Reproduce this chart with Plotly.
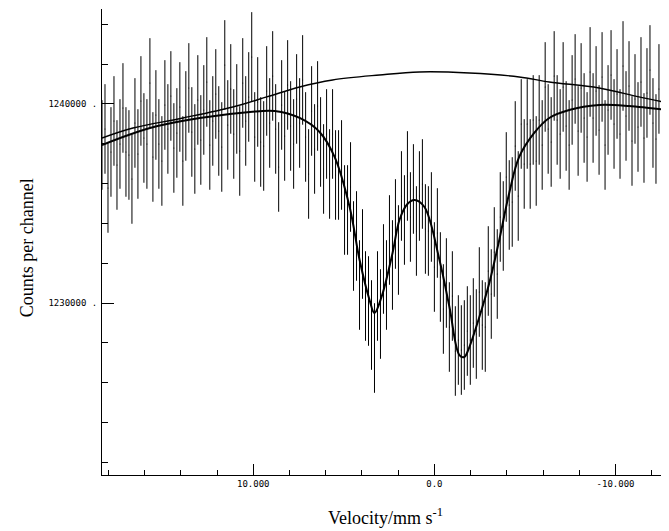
import numpy as np
import plotly.graph_objects as go

# ---- channel calibration (velocity of first channel and step, mm/s) ----
V_START = 18.35
V_STEP = -0.1653

counts = [
    1237940, 1238744, 1235779, 1237588, 1239146, 1236935, 1237990, 1239799, 1237588, 1237437,
    1236231, 1239045, 1237487, 1240151, 1238291, 1237990, 1241055, 1237337, 1239447, 1237990,
    1237136, 1239950, 1238744, 1240402, 1237789, 1238543, 1239849, 1237136, 1239397, 1240804,
    1238593, 1237739, 1240201, 1238191, 1239698, 1241105, 1237940, 1239146, 1240502, 1238643,
    1237839, 1241960, 1238945, 1240754, 1238492, 1239749, 1237638, 1241055, 1239146, 1240352,
    1242362, 1238342, 1240100, 1238090, 1237889, 1240653, 1239045, 1241407, 1238744, 1236834,
    1239950, 1238392, 1240955, 1238894, 1237990, 1240251, 1239045, 1241206, 1238342, 1236482,
    1239648, 1237739, 1239899, 1238090, 1236734, 1238492, 1236482, 1238492, 1236432, 1236432,
    1236935, 1234673, 1234673, 1235829, 1232864, 1233367, 1230905, 1232462, 1230352, 1230101,
    1228895, 1227739, 1230352, 1229447, 1231709, 1230905, 1233166, 1231910, 1233970, 1232663,
    1235377, 1234171, 1236382, 1234322, 1235729, 1233618, 1235377, 1235980, 1233719, 1233618,
    1234322, 1231809, 1233518, 1231307, 1229699, 1231005, 1228794, 1230352, 1227588, 1228141,
    1227638, 1227890, 1228593, 1228141, 1228995, 1228442, 1230553, 1228895, 1228794, 1231608,
    1230452, 1232563, 1231457, 1234322, 1233869, 1236332, 1234925, 1235075, 1237889, 1235377,
    1238995, 1236985, 1238995, 1236985, 1239196, 1237136, 1239196, 1237940, 1240854, 1238744,
    1238090, 1241407, 1239196, 1238492, 1240854, 1238894, 1237940, 1240201, 1241256, 1238643,
    1240804, 1239296, 1238342, 1241608, 1239296, 1240653, 1238693, 1241357, 1237940, 1239698,
    1241457, 1238995, 1240502, 1238492, 1241909, 1239397, 1240904, 1238141, 1240251, 1238844,
    1241105, 1238291, 1240553, 1241708, 1239045, 1238241, 1240754, 1239146, 1237437, 1240201,
]
ERR = 2250  # half-length of the error bars (counts)

# ---- fitted curve ----
fit_v = [18.35, 15.70, 12.95, 10.19, 8.82, 7.44, 6.34, 5.51, 4.68, 4.13, 3.58, 3.31,
         2.92, 2.31, 1.93, 1.49, 1.10, 0.55, -0.28, -0.83, -1.38, -1.65, -1.93, -2.48,
         -3.03, -3.58, -4.13, -4.68, -5.51, -6.34, -7.44, -9.09, -10.74, -11.85, -12.89]
fit_c = [1237940, 1238794, 1239296, 1239598, 1239648, 1239296, 1238593, 1237337, 1234824,
         1232161, 1230151, 1229498, 1230302, 1232513, 1234171, 1234975, 1235176, 1234824,
         1232161, 1229799, 1227387, 1227287, 1227789, 1229297, 1231005, 1233166, 1235528,
         1237337, 1238543, 1239296, 1239698, 1239950, 1239900, 1239799, 1239698]

# ---- baseline curve ----
base_v = [18.35, 16.64, 13.88, 11.13, 9.26, 7.44, 5.62, 3.03, 0.83, -1.93, -4.68,
          -6.34, -9.09, -11.29, -12.89]
base_c = [1238291, 1238794, 1239296, 1239849, 1240352, 1240854, 1241206, 1241457,
          1241608, 1241558, 1241357, 1241106, 1240804, 1240352, 1240050]

# ---- axis ticks ----
x_tickvals = [10, 0, -10]
x_ticktext = ["10.000", "0.0", "-10.000"]
y_tickvals = [1230000, 1240000]
y_ticktext = ["1230000 .", "1240000 ."]

vel = V_START + V_STEP * np.arange(len(counts))

fig = go.Figure()
fig.add_trace(go.Scatter(
    x=vel, y=counts, mode="markers",
    marker=dict(size=1, color="black"),
    error_y=dict(type="constant", value=ERR, width=0, thickness=1, color="black"),
    hoverinfo="skip", showlegend=False))
fig.add_trace(go.Scatter(
    x=base_v, y=base_c, mode="lines", line=dict(color="black", width=1.4, shape="spline"),
    showlegend=False))
fig.add_trace(go.Scatter(
    x=fit_v, y=fit_c, mode="lines", line=dict(color="black", width=2, shape="spline"),
    showlegend=False))

fig.update_layout(
    width=661, height=523,
    margin=dict(l=94, r=0, t=1, b=56),
    paper_bgcolor="white", plot_bgcolor="white",
    xaxis=dict(range=[18.35, -12.95], showgrid=False, zeroline=False, automargin=False,
               showline=True, linecolor="black", linewidth=1,
               ticks="inside", ticklen=11, tickcolor="black",
               tickmode="array", tickvals=x_tickvals, ticktext=x_ticktext,
               tickfont=dict(family="DejaVu Sans Mono", size=9, color="black"),
               minor=dict(ticks="inside", ticklen=5, tick0=0, dtick=2, tickcolor="black")),
    yaxis=dict(range=[1221360, 1244770], showgrid=False, zeroline=False, automargin=False,
               showline=True, linecolor="black", linewidth=1,
               ticks="inside", ticklen=12, tickcolor="black",
               tickmode="array", tickvals=y_tickvals, ticktext=y_ticktext,
               tickfont=dict(family="DejaVu Sans Mono", size=9, color="black"),
               ticklabelstandoff=2,
               minor=dict(ticks="inside", ticklen=6, tick0=1220000, dtick=2000, tickcolor="black")),
    annotations=[
        dict(text="Velocity/mm s<sup>-1</sup>", xref="paper", yref="paper",
             x=0.5, y=-0.09, xanchor="center", yanchor="middle", showarrow=False,
             font=dict(family="Liberation Serif", size=18, color="black")),
        dict(text="Counts per channel", xref="paper", yref="paper",
             x=-0.132, y=0.487, xanchor="center", yanchor="middle", showarrow=False,
             textangle=-90, font=dict(family="Liberation Serif", size=18, color="black")),
    ],
)

fig.write_html("out.html")
